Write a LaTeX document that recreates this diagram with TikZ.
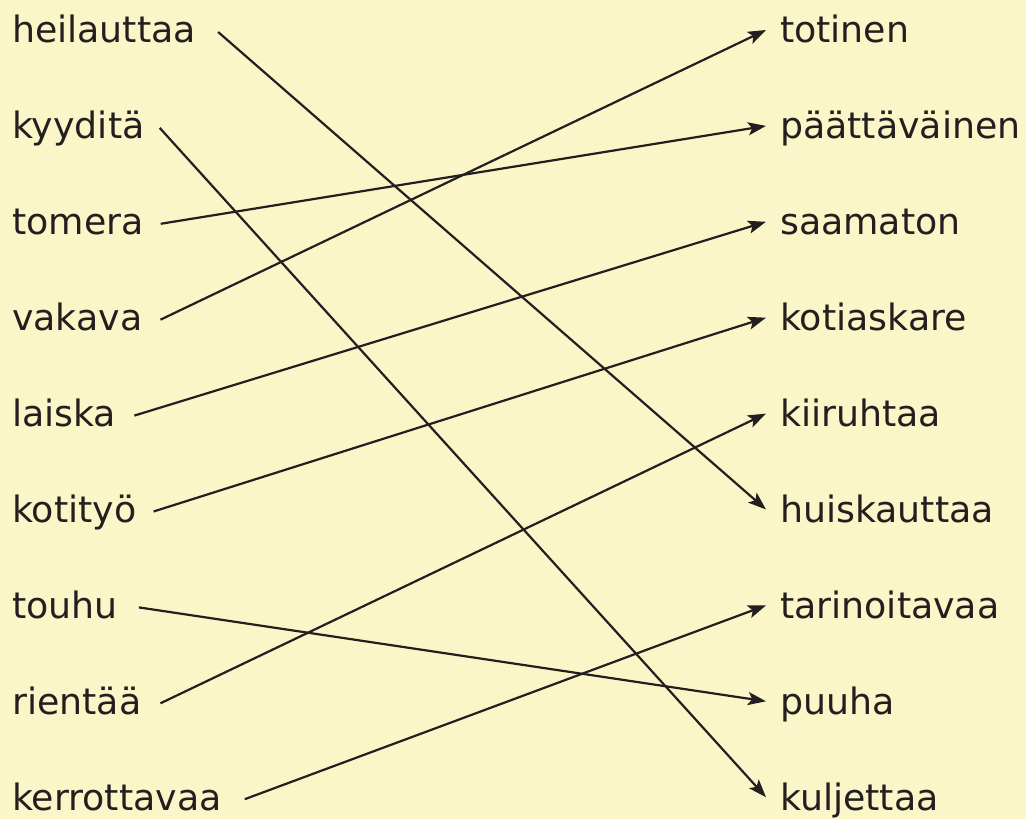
\documentclass[tikz,border=0pt]{standalone}
\usepackage{fontspec}
\setmainfont{DejaVu Sans}
\usetikzlibrary{arrows.meta}
\definecolor{bg}{HTML}{FAF6C7}
\definecolor{ink}{HTML}{231F20}
\begin{document}
\begin{tikzpicture}[x=1pt,y=1pt,
  word/.style={inner sep=0pt, font=\fontsize{36.3}{43}\selectfont, text=ink},
  lword/.style={word, anchor=base west},
  rword/.style={word, anchor=base west},
  link/.style={draw=ink, line width=2.2pt, -{Stealth[length=18pt,width=13pt,inset=4pt]}}]
\fill[bg] (0,0) rectangle (1026,819);
\useasboundingbox (0,0) rectangle (1026,819);
\foreach \t [count=\i] in {heilauttaa,kyyditä,tomera,vakava,laiska,kotityö,touhu,rientää,kerrottavaa}
  \node[lword] (L\i) at (12,{776-95.9*(\i-1)}) {\t};
\foreach \t [count=\i] in {totinen,päättäväinen,saamaton,kotiaskare,kiiruhtaa,huiskauttaa,tarinoitavaa,puuha,kuljettaa}
  \node[rword] (R\i) at (780,{776-95.9*(\i-1)}) {\t};
\foreach \a/\b/\g in {1/6/22, 2/9/15, 3/2/17, 4/1/18, 5/3/18, 6/4/17, 7/8/21, 8/5/19, 9/7/23}
  \draw[link] ([xshift=\g pt,yshift=11pt]L\a.base east) -- ([xshift=-14pt,yshift=13pt]R\b.base west);
\end{tikzpicture}
\end{document}
